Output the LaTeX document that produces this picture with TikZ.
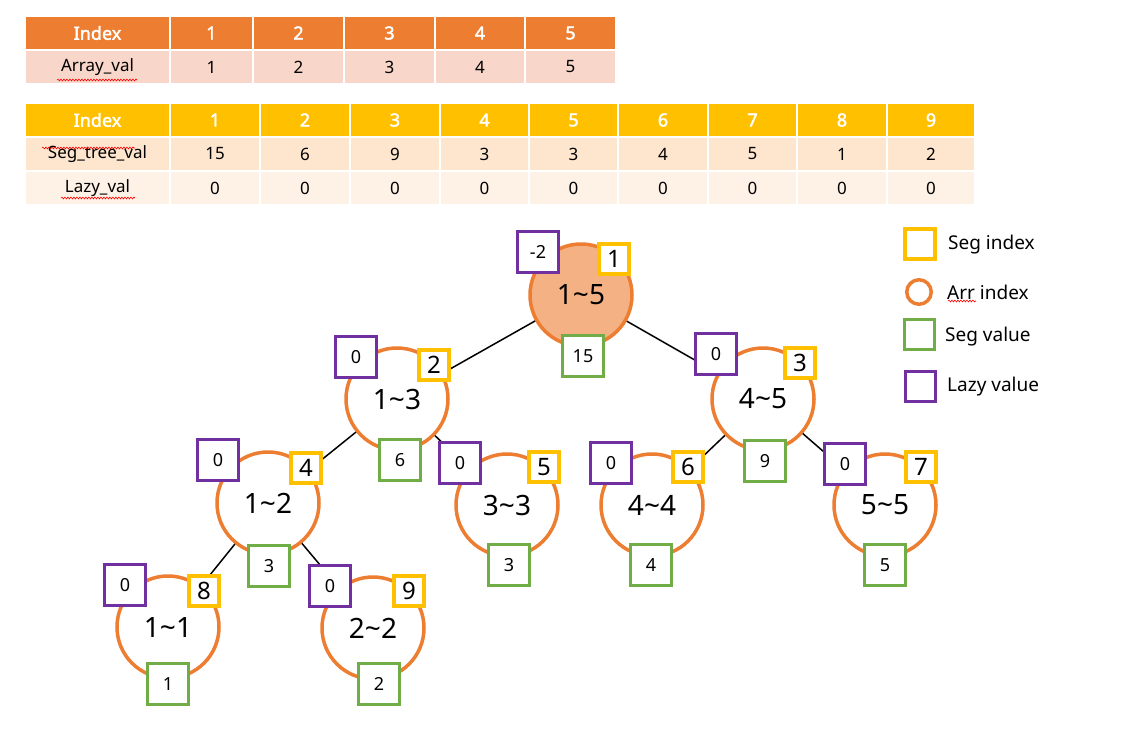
\documentclass[tikz,border=0pt]{standalone}
\usepackage{fontspec}
\setmainfont{Noto Sans}
\newfontfamily\hdrfont{Noto Sans}[FakeBold=2.2]
\usetikzlibrary{decorations.pathmorphing}
\definecolor{orH}{HTML}{ED7D31}
\definecolor{orR}{HTML}{F8D6CA}
\definecolor{yeH}{HTML}{FFC000}
\definecolor{yeR1}{HTML}{FEE6CE}
\definecolor{yeR2}{HTML}{FEF2E7}
\definecolor{rootfill}{HTML}{F4B183}
\definecolor{purp}{HTML}{7030A0}
\definecolor{grn}{HTML}{70AD47}
\tikzset{
  cell/.style={draw=white,line width=1.5,inner sep=0,font=\fontsize{17}{20}\selectfont},
  hcell/.style={cell,text=white,font=\hdrfont\fontsize{18}{21}\selectfont},
  arr/.style={circle,draw=orH,line width=3.5,fill=white,minimum size=102,inner sep=0,font=\fontsize{28}{32}\selectfont},
  lazybox/.style={draw=purp,line width=3.8,fill=white,minimum size=41,inner sep=0,font=\fontsize{18}{21}\selectfont},
  valbox/.style={draw=grn,line width=3.8,fill=white,minimum size=41,inner sep=0,font=\fontsize{18}{21}\selectfont},
  idxbox/.style={draw=yeH,line width=3.8,fill=white,minimum size=30,inner sep=0,font=\fontsize{24}{28}\selectfont},
  edge/.style={draw=black,line width=1.5},
  legtext/.style={anchor=west,inner sep=0,font=\fontsize{19}{22}\selectfont},
  squig/.style={draw=red,line width=0.6,decorate,decoration={snake,segment length=3,amplitude=0.9}}
}
\begin{document}
\begin{tikzpicture}[x=1pt,y=-1pt]
\useasboundingbox (0,0) rectangle (1148,737);
% ---- table 1
\foreach \a/\b/\t [count=\i] in {25/170/Index,170/253/1,253/344/2,344/435/3,435/525/4,525/616/5}
  \node[hcell,fill=orH,minimum width=\b pt-\a pt,minimum height=34] (t1h\i) at ({(\a+\b)/2},33) {\t};
\foreach \a/\b/\t [count=\i] in {25/170/Array\_val,170/253/1,253/344/2,344/435/3,435/525/4,525/616/5}
  \node[cell,fill=orR,minimum width=\b pt-\a pt,minimum height=34] (t1r\i) at ({(\a+\b)/2},67) {\t};
% ---- table 2
\foreach \a/\b/\t [count=\i] in {25/170/Index,170/260/1,260/350/2,350/440/3,440/529/4,529/618/5,618/708/6,708/797/7,797/887/8,887/975/9}
  \node[hcell,fill=yeH,minimum width=\b pt-\a pt,minimum height=34] (t2h\i) at ({(\a+\b)/2},120) {\t};
\foreach \a/\b/\t [count=\i] in {25/170/Seg\_tree\_val,170/260/15,260/350/6,350/440/9,440/529/3,529/618/3,618/708/4,708/797/5,797/887/1,887/975/2}
  \node[cell,fill=yeR1,minimum width=\b pt-\a pt,minimum height=34] (t2r\i) at ({(\a+\b)/2},154) {\t};
\foreach \a/\b/\t [count=\i] in {25/170/Lazy\_val,170/260/0,260/350/0,350/440/0,440/529/0,529/618/0,618/708/0,708/797/0,797/887/0,887/975/0}
  \node[cell,fill=yeR2,minimum width=\b pt-\a pt,minimum height=34] (t2s\i) at ({(\a+\b)/2},188) {\t};
\draw[squig] (57,80) -- (137,80);
\draw[squig] (42,148) -- (135,148);
\draw[squig] (61,198) -- (135,198);
% ---- tree circles
\node[arr,fill=rootfill] (n1) at (581,295) {1\char`~5};
\node[arr] (n2) at (397,399) {1\char`~3};
\node[arr] (n3) at (763,399) {4\char`~5};
\node[arr] (n4) at (268,503) {1\char`~2};
\node[arr] (n5) at (507,505) {3\char`~3};
\node[arr] (n6) at (652,505) {4\char`~4};
\node[arr] (n7) at (885,505) {5\char`~5};
\node[arr] (n8) at (168,627) {1\char`~1};
\node[arr] (n9) at (373,628) {2\char`~2};
% ---- edges
\draw[edge] (n1) -- (n2);
\draw[edge] (n1) -- (n3);
\draw[edge] (n2) -- (n4);
\draw[edge] (n2) -- (n5);
\draw[edge] (n3) -- (n6);
\draw[edge] (n3) -- (n7);
\draw[edge] (n4) -- (n8);
\draw[edge] (n4) -- (n9);
% ---- boxes
\node[lazybox] (z1) at (538,252) {-2};
\node[idxbox]  (i1) at (614,259) {1};
\node[valbox]  (v1) at (583,356) {15};
\node[lazybox] (z2) at (356,357) {0};
\node[idxbox]  (i2) at (434,365) {2};
\node[valbox]  (v2) at (400,460) {6};
\node[lazybox] (z3) at (716,354) {0};
\node[idxbox]  (i3) at (800,363) {3};
\node[valbox]  (v3) at (765,461) {9};
\node[lazybox] (z4) at (218,460) {0};
\node[idxbox]  (i4) at (306,468) {4};
\node[valbox]  (v4) at (269,566) {3};
\node[lazybox] (z5) at (460,463) {0};
\node[idxbox]  (i5) at (544,467) {5};
\node[valbox]  (v5) at (509,565) {3};
\node[lazybox] (z6) at (611,463) {0};
\node[idxbox]  (i6) at (688,467) {6};
\node[valbox]  (v6) at (651,565) {4};
\node[lazybox] (z7) at (845,464) {0};
\node[idxbox]  (i7) at (921,467) {7};
\node[valbox]  (v7) at (885,565) {5};
\node[lazybox] (z8) at (125,585) {0};
\node[idxbox]  (i8) at (204,591) {8};
\node[valbox]  (v8) at (168,684) {1};
\node[lazybox] (z9) at (330,586) {0};
\node[idxbox]  (i9) at (409,591) {9};
\node[valbox]  (v9) at (379,684) {2};
% ---- legend
\node[idxbox,minimum size=30] (lg1) at (920,244) {};
\node[legtext] (lt1) at (948,245) {Seg index};
\node[circle,draw=orH,line width=3.5,minimum size=24.5,inner sep=0] (lg2) at (919,292) {};
\node[legtext] (lt2) at (947,292) {Arr index};
\draw[squig] (948,301) -- (976,301);
\node[valbox,minimum size=30] (lg3) at (919.5,334.5) {};
\node[legtext] (lt3) at (945,337) {Seg value};
\node[lazybox,minimum size=30] (lg4) at (920.5,386.5) {};
\node[legtext] (lt4) at (947,387) {Lazy value};
\end{tikzpicture}
\end{document}
